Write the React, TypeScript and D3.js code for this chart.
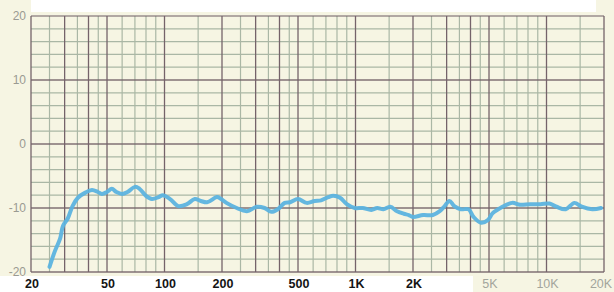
import React from 'react';
import * as d3 from 'd3';

// response curve (Hz, dB)
const freqs = [25, 26.7, 28.4, 29.4, 31.2, 33, 35.2, 38.5, 41.7, 44.8, 47, 50, 53, 56, 60, 64, 70, 74, 80, 86, 93, 98,
    107, 118, 131, 144, 155, 167, 188, 196, 211, 239, 270, 305, 334, 363, 392, 426, 455, 500, 555, 611, 660, 720, 765,
    830, 900, 990, 1090, 1210, 1300, 1400, 1520, 1650, 1790, 1900, 2000, 2260, 2540, 2760, 2930, 3100, 3290, 3560,
    3910, 4150, 4540, 4930, 5230, 5740, 6610, 7270, 8200, 9300, 10360, 11270, 12600, 14000, 15300, 17400, 19300];
const levels = [-19.2, -16.7, -14.8, -12.8, -11.6, -9.7, -8.4, -7.6, -7.2, -7.5, -7.8, -7.5, -7.0, -7.5, -7.8, -7.5,
    -6.7, -7.0, -8.1, -8.6, -8.3, -8.0, -8.6, -9.7, -9.4, -8.6, -8.9, -9.1, -8.3, -8.5, -9.2, -10.0, -10.5, -9.8, -10.0,
    -10.6, -10.2, -9.2, -9.1, -8.6, -9.2, -8.9, -8.8, -8.3, -8.1, -8.4, -9.4, -10.0, -10.0, -10.3, -10.0, -10.2, -9.8,
    -10.5, -10.9, -11.1, -11.4, -11.1, -11.1, -10.5, -9.7, -8.9, -9.7, -10.2, -10.2, -11.4, -12.3, -11.9, -10.8, -10.0,
    -9.2, -9.5, -9.4, -9.4, -9.3, -9.8, -10.2, -9.2, -9.8, -10.2, -10.0];

const minorFreqs = [25, 35, 45, 60, 70, 80, 90, 150, 250, 350, 450, 600, 700, 800, 900, 1500, 2500, 3500, 4500,
    6000, 7000, 8000, 9000, 15000];
const majorFreqs = [20, 30, 40, 50, 100, 200, 300, 400, 500, 1000, 2000, 3000, 4000, 5000, 10000, 20000];
const dbLines = [-18, -16, -14, -12, -8, -6, -4, -2, 2, 4, 6, 8, 12, 14, 16, 18];
const dbMajor = [-20, -10, 0, 10, 20];
const yTicks = ['20', '10', '0', '-10', '-20'];
const xTicks = [20, 50, 100, 200, 500, 1000, 2000, 5000, 10000, 20000];
const xTickLabels = ['20', '50', '100', '200', '500', '1K', '2K', '5K', '10K', '20K'];

export default function App() {
    const width = 614, height = 292;
    const margin = {left: 31, right: 10, top: 16, bottom: 20};

    const x = d3.scaleLog().domain([20, 20000]).range([margin.left, width - margin.right]);
    const y = d3.scaleLinear().domain([-20, 20]).range([height - margin.bottom, margin.top]);

    const points: [number, number][] = freqs.map((f, i) => [f, levels[i]]);
    const line = d3.line<[number, number]>()
        .x(d => x(d[0]))
        .y(d => y(d[1]))
        .curve(d3.curveCatmullRom.alpha(0.5));

    const cream = '#f6f5e3';
    const dark = '#75636a';
    const light = '#aab7a5';

    return (
        <svg width={width} height={height} style={{position: 'absolute', left: 0, top: 0, display: 'block'}}
             fontFamily="Liberation Sans, Arial, sans-serif">
            <rect x={0} y={0} width={width} height={height} fill={cream}/>
            <rect x={margin.left} y={0} width={565} height={12} fill="#ffffff"/>
            <rect x={0} y={276} width={473} height={16} fill="#ffffff"/>

            {dbLines.map(d => (
                <line key={'h' + d} x1={x(20)} x2={x(20000)} y1={y(d)} y2={y(d)} stroke={light} strokeWidth={1.2}/>
            ))}
            {minorFreqs.map(f => (
                <line key={'v' + f} x1={x(f)} x2={x(f)} y1={y(20)} y2={y(-20)} stroke={light} strokeWidth={1.2}/>
            ))}
            {dbMajor.map(d => (
                <line key={'H' + d} x1={x(20)} x2={x(20000)} y1={y(d)} y2={y(d)} stroke={dark} strokeWidth={1.3}
                      opacity={d === 20 ? 0.7 : 0.9}/>
            ))}
            {majorFreqs.map(f => (
                <line key={'V' + f} x1={x(f)} x2={x(f)} y1={y(20)} y2={y(-20)} stroke={dark} strokeWidth={1.3}/>
            ))}

            <path d={line(points) || ''} fill="none" stroke="#5cb3df" strokeWidth={4} strokeLinecap="round"
                  strokeLinejoin="round" opacity={0.95}/>

            {dbMajor.slice().reverse().map((d, i) => (
                <text key={'yl' + d} x={26} y={y(d)} dy="0.35em" textAnchor="end" fontSize={12} fill="#9a9a92">
                    {yTicks[i]}
                </text>
            ))}
            {xTicks.map((f, i) => (
                <text key={'xl' + f} x={Math.min(x(f) + 1, 601)} y={288} textAnchor="middle" fontSize={12.5}
                      fontWeight={f < 5000 ? 'bold' : 'normal'} fill={f < 5000 ? '#141414' : '#a3a59c'}>
                    {xTickLabels[i]}
                </text>
            ))}
        </svg>
    );
}
